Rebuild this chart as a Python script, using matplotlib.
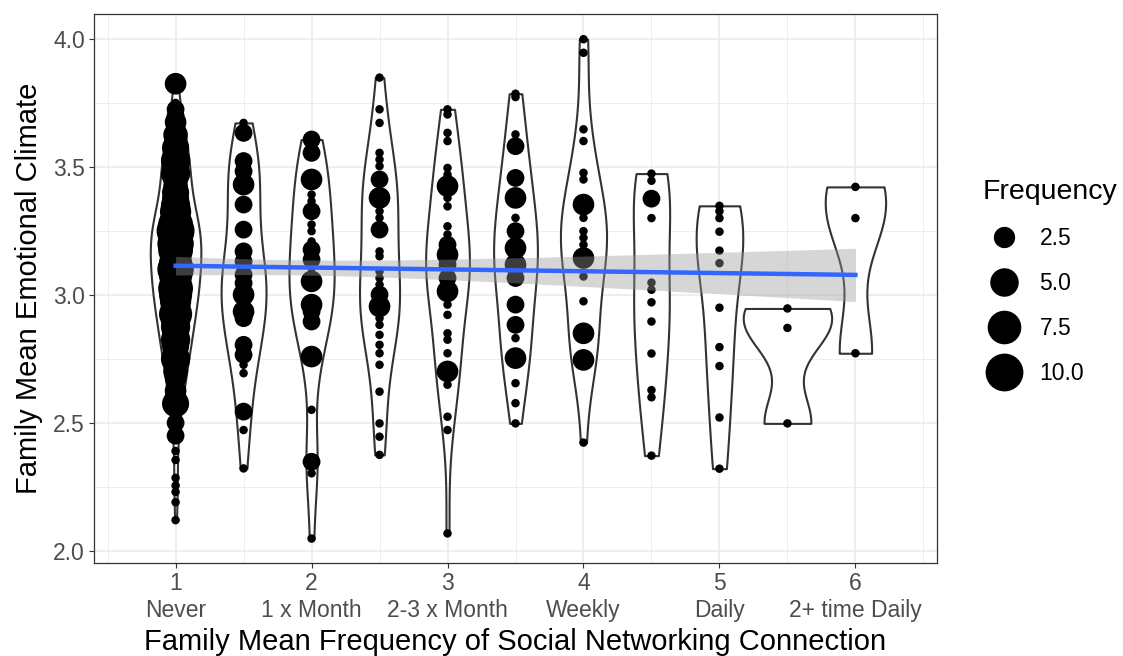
import numpy as np
import matplotlib.pyplot as plt
from matplotlib.lines import Line2D

plt.rcParams['font.family'] = ['Liberation Sans', 'DejaVu Sans']

# posiciones de cada grupo en el eje x
group_x = [1.0, 1.5, 2.0, 2.5, 3.0, 3.5, 4.0, 4.5, 5.0, 5.5, 6.0]

# valores y frecuencias (conteo de puntos superpuestos) por grupo
never_vals = [3.825, 3.750, 3.725, 3.700, 3.675, 3.650, 3.625, 3.600, 3.575, 3.550,
              3.525, 3.500, 3.475, 3.450, 3.425, 3.400, 3.375, 3.350, 3.325, 3.300,
              3.275, 3.250, 3.225, 3.200, 3.175, 3.150, 3.125, 3.100, 3.075, 3.050,
              3.025, 3.000, 2.975, 2.950, 2.925, 2.900, 2.875, 2.850, 2.825, 2.800,
              2.775, 2.750, 2.725, 2.700, 2.675, 2.650, 2.625, 2.600, 2.575, 2.500,
              2.450, 2.390, 2.355, 2.285, 2.255, 2.230, 2.190, 2.120]
never_counts = [3, 1, 2, 2, 3, 2, 4, 3, 5, 4,
                6, 5, 6, 4, 4, 5, 5, 6, 7, 6,
                9, 11, 8, 10, 9, 7, 8, 10, 8, 7,
                9, 8, 7, 6, 8, 6, 6, 5, 6, 5,
                4, 6, 3, 4, 3, 2, 3, 3, 5, 2,
                2, 1, 1, 1, 1, 1, 1, 1]

g15_vals = [3.672, 3.633, 3.523, 3.483, 3.431, 3.353, 3.255, 3.170, 3.131, 3.079,
            3.046, 3.001, 2.935, 2.909, 2.805, 2.766, 2.727, 2.694, 2.544, 2.472, 2.322]
g15_counts = [1, 2, 2, 2, 3, 2, 2, 2, 2, 2, 2, 3, 3, 2, 2, 2, 1, 1, 2, 1, 1]

g2_vals = [3.607, 3.555, 3.451, 3.392, 3.366, 3.327, 3.275, 3.249, 3.209, 3.177,
           3.138, 3.105, 3.053, 2.962, 2.935, 2.896, 2.759, 2.551, 2.348, 2.303, 2.048]
g2_counts = [2, 2, 3, 1, 1, 2, 1, 1, 1, 2, 2, 1, 3, 3, 2, 2, 3, 1, 2, 1, 1]

g25_vals = [3.849, 3.725, 3.672, 3.555, 3.529, 3.503, 3.451, 3.379, 3.327, 3.301,
            3.255, 3.170, 3.151, 3.092, 3.066, 3.040, 3.001, 2.955, 2.909, 2.883,
            2.844, 2.805, 2.772, 2.727, 2.622, 2.498, 2.446, 2.375]
g25_counts = [1, 1, 1, 1, 1, 1, 2, 3, 1, 1, 2, 1, 1, 1, 1, 1, 2, 3, 1, 1,
              1, 1, 1, 1, 1, 1, 1, 1]

g3_vals = [3.725, 3.705, 3.633, 3.601, 3.496, 3.470, 3.425, 3.379, 3.346, 3.268,
           3.236, 3.196, 3.157, 3.118, 3.066, 3.014, 2.962, 2.922, 2.850, 2.825,
           2.772, 2.701, 2.649, 2.524, 2.472, 2.068]
g3_counts = [1, 1, 1, 1, 1, 1, 3, 1, 1, 1, 1, 2, 3, 2, 2, 3, 1, 1, 1, 1,
             1, 3, 1, 1, 1, 1]

g35_vals = [3.786, 3.773, 3.627, 3.581, 3.457, 3.379, 3.301, 3.249, 3.183, 3.118,
            3.066, 2.962, 2.883, 2.831, 2.753, 2.655, 2.577, 2.498]
g35_counts = [1, 1, 1, 2, 2, 3, 1, 2, 3, 3, 2, 2, 2, 1, 3, 1, 1, 1]

g4_vals = [3.999, 3.946, 3.647, 3.601, 3.477, 3.451, 3.353, 3.301, 3.249, 3.223,
           3.196, 3.170, 3.144, 3.072, 2.975, 2.850, 2.746, 2.423]
g4_counts = [1, 1, 1, 1, 1, 1, 3, 1, 1, 1, 1, 1, 3, 1, 1, 3, 3, 1]

g45_vals = [3.474, 3.446, 3.376, 3.300, 3.048, 3.020, 2.971, 2.896, 2.771, 2.628, 2.600, 2.372]
g45_counts = [1, 1, 2, 1, 1, 1, 1, 1, 1, 1, 1, 1]

g5_vals = [3.348, 3.327, 3.300, 3.247, 3.173, 3.124, 2.950, 2.796, 2.722, 2.521, 2.321]
g5_counts = [1, 1, 1, 1, 1, 1, 1, 1, 1, 1, 1]

g55_vals = [2.947, 2.871, 2.498]
g55_counts = [1, 1, 1]

g6_vals = [3.422, 3.300, 2.772]
g6_counts = [1, 1, 1]

all_vals = [never_vals, g15_vals, g2_vals, g25_vals, g3_vals, g35_vals,
            g4_vals, g45_vals, g5_vals, g55_vals, g6_vals]
all_counts = [never_counts, g15_counts, g2_counts, g25_counts, g3_counts, g35_counts,
              g4_counts, g45_counts, g5_counts, g55_counts, g6_counts]

x_ticks = [1, 2, 3, 4, 5, 6]
x_labels = ['1\nNever', '2\n1 x Month', '3\n2-3 x Month', '4\nWeekly', '5\nDaily', '6\n2+ time Daily']
legend_breaks = [2.5, 5.0, 7.5, 10.0]


def bw_nrd0(x):
    hi = np.std(x, ddof=1)
    q75, q25 = np.percentile(x, [75, 25])
    lo = min(hi, (q75 - q25) / 1.34)
    if lo == 0:
        lo = hi if hi > 0 else 1.0
    return 0.9 * lo * len(x) ** -0.2


def kde(vals, counts):
    x = np.repeat(vals, counts)
    bw = bw_nrd0(x)
    grid = np.linspace(x.min(), x.max(), 512)
    z = (grid[:, None] - x[None, :]) / bw
    dens = np.exp(-0.5 * z ** 2).sum(axis=1) / (len(x) * bw * np.sqrt(2 * np.pi))
    return grid, dens


def diam_px(n):
    # diametro del punto en pixeles segun la frecuencia
    return 8.5 + 9.3 * np.sqrt(np.maximum(np.asarray(n, dtype=float) - 1, 0))


def size_s(n):
    return (diam_px(n) * 0.72) ** 2


fig = plt.figure(figsize=(11.23, 6.56), dpi=100)
ax = fig.add_axes([94 / 1123, 93 / 656, 843 / 1123, 549 / 656])

# violines (escala "area": ancho proporcional a la densidad maxima global)
dens_list = [kde(v, c) for v, c in zip(all_vals, all_counts)]
max_d = max(d.max() for _, d in dens_list)
full_width = 0.65
for gx, (grid, d) in zip(group_x, dens_list):
    hw = d / max_d * full_width / 2
    ax.fill_betweenx(grid, gx - hw, gx + hw, facecolor='white',
                     edgecolor='#333333', linewidth=1.5, zorder=2)

# puntos con tamano segun frecuencia
for gx, v, c in zip(group_x, all_vals, all_counts):
    ax.scatter(np.full(len(v), gx), v, s=size_s(c), color='black',
               linewidths=0, zorder=3)

# regresion lineal con intervalo de confianza
xs = np.concatenate([np.repeat(np.full(len(v), gx), c) for gx, v, c in zip(group_x, all_vals, all_counts)])
ys = np.concatenate([np.repeat(v, c) for v, c in zip(all_vals, all_counts)])
slope, intercept = np.polyfit(xs, ys, 1)
n = len(xs)
resid = ys - (intercept + slope * xs)
s = np.sqrt((resid ** 2).sum() / (n - 2))
xbar = xs.mean()
sxx = ((xs - xbar) ** 2).sum()
xg = np.linspace(xs.min(), xs.max(), 80)
fit = intercept + slope * xg
se = s * np.sqrt(1 / n + (xg - xbar) ** 2 / sxx)
ax.fill_between(xg, fit - 1.965 * se, fit + 1.965 * se, color='#999999',
                alpha=0.4, linewidth=0, zorder=4)
ax.plot(xg, fit, color='#3366FF', linewidth=3.2, zorder=5)

# ejes y estilo tipo theme_bw
ax.set_xlim(0.4, 6.6)
ax.set_ylim(1.9525, 4.0975)
ax.set_xticks(x_ticks)
ax.set_xticklabels(x_labels)
ax.set_yticks([2.0, 2.5, 3.0, 3.5, 4.0])
ax.set_yticklabels(['2.0', '2.5', '3.0', '3.5', '4.0'])
ax.set_xticks([0.5, 1.5, 2.5, 3.5, 4.5, 5.5, 6.5], minor=True)
ax.set_yticks([2.25, 2.75, 3.25, 3.75], minor=True)
ax.grid(which='major', color='#EBEBEB', linewidth=1.2, zorder=0)
ax.grid(which='minor', color='#EBEBEB', linewidth=0.6, zorder=0)
ax.set_axisbelow(True)
ax.tick_params(which='major', length=3.6, width=0.8, color='#333333',
               labelsize=16.5, labelcolor='#4D4D4D', pad=3)
ax.tick_params(which='minor', length=0)
for sp in ax.spines.values():
    sp.set_color('#333333')
    sp.set_linewidth(0.9)

ax.set_xlabel('Family Mean Frequency of Social Networking Connection', fontsize=21, labelpad=4.5)
ax.set_ylabel('Family Mean Emotional Climate', fontsize=21, labelpad=7)

# leyenda de tamanos
handles = [Line2D([], [], linestyle='', marker='o', color='black',
                  markersize=float(diam_px(b)) * 0.72) for b in legend_breaks]
leg = ax.legend(handles, [f'{b:.1f}' for b in legend_breaks], title='Frequency',
                loc='upper left', bbox_to_anchor=(971 / 1123, 1 - 168 / 656),
                bbox_transform=fig.transFigure, frameon=False, fontsize=16.5,
                title_fontsize=20.5, borderpad=0, handlelength=1.92,
                handletextpad=0.57, labelspacing=0.95, alignment='left')

fig.savefig('out.png', dpi=100)
